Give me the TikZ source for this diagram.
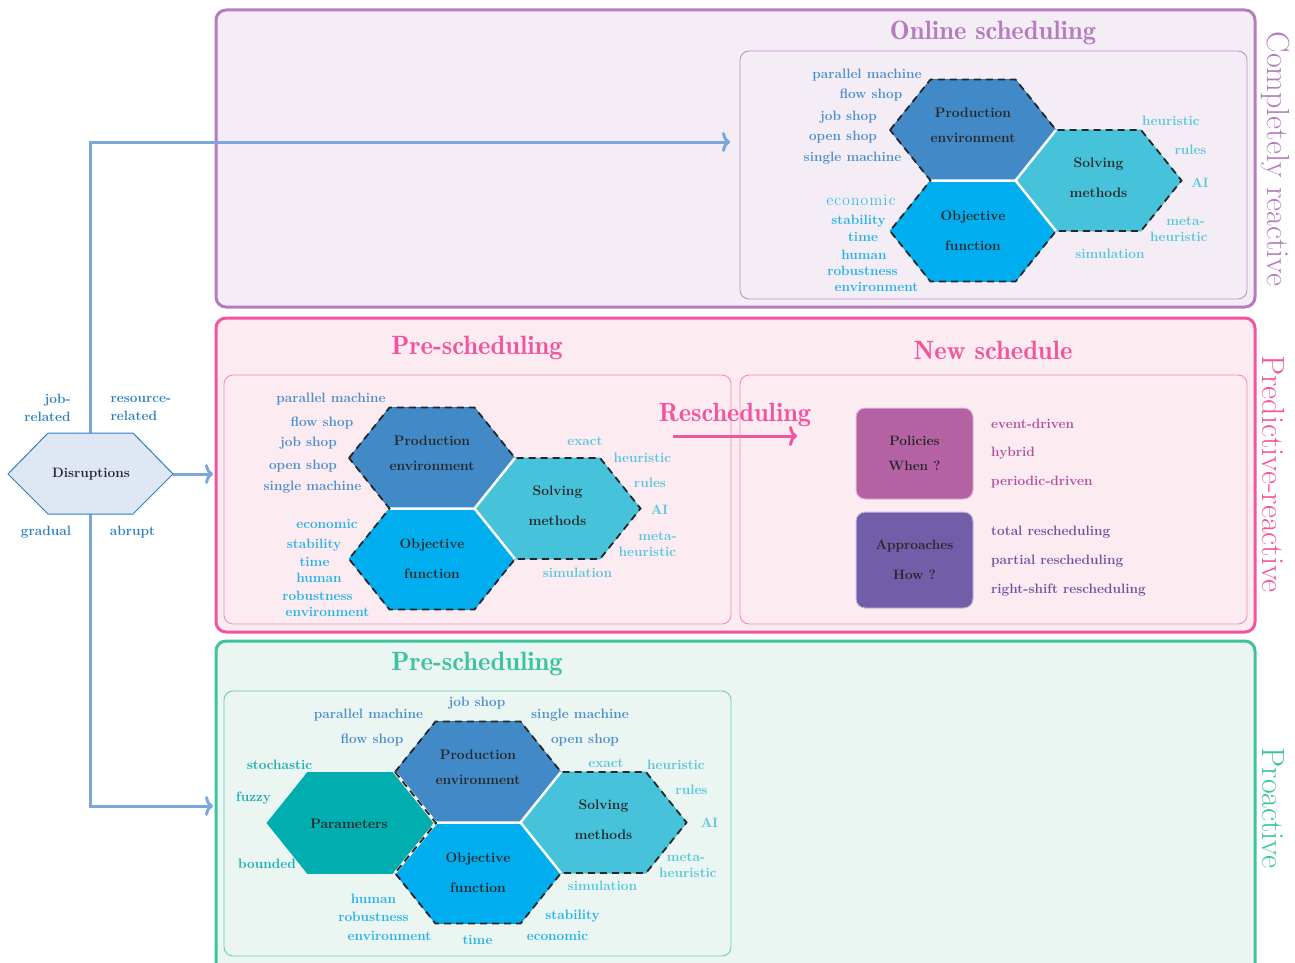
\documentclass[tikz,border=0pt]{standalone}
\usepackage{fontspec}
\usetikzlibrary{arrows.meta}
\newfontfamily\demifont{lmromandemi10-regular.otf}
\definecolor{pur}{HTML}{B57CC0}
\definecolor{purbg}{HTML}{F5EDF6}
\definecolor{purin}{HTML}{C48FCE}
\definecolor{pnk}{HTML}{F2559F}
\definecolor{pnkbg}{HTML}{FDEBF2}
\definecolor{pnkin}{HTML}{F38DC0}
\definecolor{grn}{HTML}{3CC39E}
\definecolor{grnbg}{HTML}{EBF5F2}
\definecolor{grnin}{HTML}{6CCFB2}
\definecolor{cprod}{HTML}{4189C7}
\definecolor{cprodd}{HTML}{2E78BA}
\definecolor{cobj}{HTML}{00ADEE}
\definecolor{cobjd}{HTML}{0099D8}
\definecolor{csol}{HTML}{46C2DA}
\definecolor{csold}{HTML}{34B2CC}
\definecolor{cpar}{HTML}{00ADAF}
\definecolor{lprod}{HTML}{4B8ECF}
\definecolor{lobj}{HTML}{22B2EC}
\definecolor{lsol}{HTML}{55C6DE}
\definecolor{lpar}{HTML}{17B0AE}
\definecolor{cpol}{HTML}{B562A4}
\definecolor{capp}{HTML}{725EA8}
\definecolor{lpol}{HTML}{B24E9E}
\definecolor{lapp}{HTML}{6852A5}
\definecolor{dfill}{HTML}{DFE7F5}
\definecolor{ddraw}{HTML}{2B80C4}
\definecolor{dlab}{HTML}{2B80C4}
\definecolor{arrowblue}{HTML}{7BA7DA}
\definecolor{txtdark}{HTML}{262626}
\newcommand{\labfont}{\fontsize{13.6}{16}\selectfont\bfseries}
\newcommand{\titlefont}{\demifont\fontsize{26.5}{30}\selectfont}
\newcommand{\sidefont}{\fontsize{32}{36}\selectfont}
\newcommand{\spk}{\kern1.2pt}
\tikzset{
  lab/.style={font=\labfont, inner sep=0pt, text height=9.5pt, text depth=2.8pt},
  lpP/.style={lab, text=lprod},
  lpO/.style={lab, text=lobj},
  lpS/.style={lab, text=lsol},
  lpR/.style={lab, text=lpar},
  lpol/.style={lab, text=lpol, anchor=west},
  lapp/.style={lab, text=lapp, anchor=west},
  dlabel/.style={font=\fontsize{13.6}{18}\selectfont\bfseries, text=dlab, inner sep=0pt},
  hextxt/.style={text=txtdark, align=center, inner sep=0pt},
  titletxt/.style={font=\titlefont, inner sep=0pt},
  sidelab/.style={font=\sidefont, rotate=-90, inner sep=0pt},
  flow/.style={arrowblue, line width=3pt, -{Computer Modern Rightarrow[length=8pt,width=20pt]}},
  dashout/.style={draw=black!85, line width=1.8pt, dash pattern=on 7pt off 5pt, line join=miter},
  sepline/.style={white, line width=2.5pt},
  policybox/.style={rounded corners=9pt, minimum width=117pt, minimum height=91pt, text=txtdark,
     align=center, font=\fontsize{13.6}{25}\selectfont\bfseries, line width=1pt, inner sep=0pt},
  outerpanel/.style={line width=3pt, rounded corners=10pt},
  innerpanel/.style={line width=0.9pt, rounded corners=9pt}
}
\newcommand{\hexat}[2]{({#1-83},{#2}) -- ({#1-42.5},{#2-50.5}) -- ({#1+42.5},{#2-50.5}) -- ({#1+83},{#2}) -- ({#1+42.5},{#2+50.5}) -- ({#1-42.5},{#2+50.5}) -- cycle}
\newcommand{\hexcluster}[3]{%
  \pgfmathsetmacro{\hx}{#1}\pgfmathsetmacro{\hy}{#2}%
  \filldraw[fill=cprod, draw=cprodd, line width=0.7pt] \hexat{\hx}{\hy};
  \filldraw[fill=cobj, draw=cobjd, line width=0.7pt] \hexat{\hx}{\hy+101};
  \filldraw[fill=csol, draw=csold, line width=0.7pt] \hexat{\hx+125.5}{\hy+50.5};
  \draw[sepline] ({\hx-42.5},{\hy+50.5}) -- ({\hx+42.5},{\hy+50.5}) -- ({\hx+83},{\hy});
  \draw[sepline] ({\hx+42.5},{\hy+50.5}) -- ({\hx+83},{\hy+101});
  \draw[dashout] ({\hx-83},{\hy}) -- ({\hx-42.5},{\hy-50.5}) -- ({\hx+42.5},{\hy-50.5}) -- ({\hx+83},{\hy})
     -- ({\hx+168},{\hy}) -- ({\hx+208.5},{\hy+50.5}) -- ({\hx+168},{\hy+101}) -- ({\hx+83},{\hy+101})
     -- ({\hx+42.5},{\hy+151.5}) -- ({\hx-42.5},{\hy+151.5}) -- ({\hx-83},{\hy+101}) -- ({\hx-42.5},{\hy+50.5}) -- cycle;
  \node[hextxt, font=\fontsize{13.8}{25}\selectfont\bfseries] (prod#3) at (\hx,{\hy-5}) {Production\\environment};
  \node[hextxt, font=\fontsize{13.8}{30}\selectfont\bfseries] (obj#3) at (\hx,{\hy+101}) {Objective\\function};
  \node[hextxt, font=\fontsize{13.8}{30}\selectfont\bfseries] (sol#3) at ({\hx+125.5},{\hy+48}) {Solving\\methods};
}
\begin{document}
\begin{tikzpicture}[x=1pt,y=-1pt]
\useasboundingbox (0,0) rectangle (1295,963);
\begin{scope}
\clip (0,0) rectangle (1295,963);
% panels
\path[outerpanel, draw=pur, fill=purbg] (216,10) rectangle (1255,307);
\path[innerpanel, draw=purin, fill=purbg] (740,51) rectangle (1247,299);
\path[outerpanel, draw=pnk, fill=pnkbg] (216,318) rectangle (1255,632);
\path[innerpanel, draw=pnkin, fill=pnkbg] (224,375) rectangle (731,624);
\path[innerpanel, draw=pnkin, fill=pnkbg] (740,375) rectangle (1247,624);
\path[outerpanel, draw=grn, fill=grnbg] (216,641) rectangle (1255,990);
\path[innerpanel, draw=grnin, fill=grnbg] (224,691) rectangle (731,956);
\end{scope}

% titles
\node[titletxt, text=pur] (tOnline) at (993,33) {Online scheduling};
\node[titletxt, text=pnk] (tPre) at (477,348) {Pre-scheduling};
\node[titletxt, text=pnk] (tNew) at (993,350) {New schedule};
\node[titletxt, text=grn] (tPro) at (477,664) {Pre-scheduling};
\node[sidelab, text=pur] (sCR) at (1275,159) {Completely reactive};
\node[sidelab, text=pnk] (sPR) at (1273,474) {Predictive-reactive};
\node[sidelab, text=grn] (sPA) at (1273,808) {Proactive};

% clusters
\hexcluster{973}{130}{A}
\hexcluster{432}{458}{B}
\filldraw[fill=cpar, draw=cpar, line width=0.7pt] \hexat{350}{823};
\hexcluster{478}{772}{C}
\draw[sepline] (436,823) -- (395,772);
\draw[sepline] (436,823) -- (395,873);
\draw[dashout] (395,772) -- (436,823) -- (395,873);
\node[hextxt, font=\fontsize{13.8}{16}\selectfont\bfseries] (param) at (349,824) {Parameters};

% top cluster labels
\node[lpP] (a1) at (867,75) {parallel machine};
\node[lpP] (a2) at (871,95) {flow shop};
\node[lpP] (a3) at (848.5,117) {job shop};
\node[lpP] (a4) at (843,137) {open shop};
\node[lpP] (a5) at (852.5,158) {single machine};
\node[lab, text=lobj, font=\fontsize{16.5}{18}\selectfont] (a6) at (861,202) {e\spk c\spk o\spk n\spk o\spk m\spk i\spk c};
\node[lpO] (a7) at (858.5,221) {stability};
\node[lpO] (a8) at (863,238) {time};
\node[lpO] (a9) at (864,256) {human};
\node[lpO] (a10) at (862.5,272) {robustness};
\node[lpO] (a11) at (876.5,288) {environment};
\node[lpS] (a12) at (1171,122) {heuristic};
\node[lpS] (a13) at (1190.5,151) {rules};
\node[lpS] (a14) at (1200,184) {AI};
\node[lpS] (a15) at (1185.5,222) {meta-};
\node[lpS] (a16) at (1179,238) {heuristic};
\node[lpS] (a17) at (1110,255) {simulation};

% middle cluster labels
\node[lpP] (b1) at (331,399) {parallel machine};
\node[lpP] (b2) at (322,423) {flow shop};
\node[lpP] (b3) at (308.5,443) {job shop};
\node[lpP] (b4) at (303,466) {open shop};
\node[lpP] (b5) at (312.5,487) {single machine};
\node[lpO] (b6) at (327,525) {economic};
\node[lpO] (b7) at (314,545) {stability};
\node[lpO] (b8) at (314.5,563) {time};
\node[lpO] (b9) at (319,579) {human};
\node[lpO] (b10) at (317.5,597) {robustness};
\node[lpO] (b11) at (327.5,613) {environment};
\node[lpS] (b12) at (585,442) {exact};
\node[lpS] (b13) at (642.5,459) {heuristic};
\node[lpS] (b14) at (650,484) {rules};
\node[lpS] (b15) at (659.5,511) {AI};
\node[lpS] (b16) at (657.5,537) {meta-};
\node[lpS] (b17) at (647.5,553) {heuristic};
\node[lpS] (b18) at (577.5,574) {simulation};

% bottom cluster labels
\node[lpP] (c1) at (477,703) {job shop};
\node[lpP] (c2) at (368.5,715) {parallel machine};
\node[lpP] (c3) at (580,715) {single machine};
\node[lpP] (c4) at (372,740) {flow shop};
\node[lpP] (c5) at (585,740) {open shop};
\node[lpR] (c6) at (279.5,766) {stochastic};
\node[lpR] (c7) at (253.5,798) {fuzzy};
\node[lpR] (c8) at (267,865) {bounded};
\node[lpS] (c9) at (606,764) {exact};
\node[lpS] (c10) at (676,766) {heuristic};
\node[lpS] (c11) at (691.5,791) {rules};
\node[lpS] (c12) at (709.5,824) {AI};
\node[lpS] (c13) at (686,858) {meta-};
\node[lpS] (c14) at (688,874) {heuristic};
\node[lpS] (c15) at (602.5,887) {simulation};
\node[lpO] (c16) at (373.5,900) {human};
\node[lpO] (c17) at (373.5,918) {robustness};
\node[lpO] (c18) at (389.5,937) {environment};
\node[lpO] (c19) at (477.5,941) {time};
\node[lpO] (c20) at (572.5,916) {stability};
\node[lpO] (c21) at (557.5,937) {economic};

% policies / approaches
\node[policybox, fill=cpol, draw=cpol!45!white] (pol) at (914.5,453.5) {Policies\\When ?};
\node[policybox, fill=capp, draw=capp!40!white, font=\fontsize{13.6}{30}\selectfont\bfseries, minimum height=96pt] (app) at (914.5,560) {Approaches\\How ?};
\node[lpol] (p1) at (991,425) {event-driven};
\node[lpol] (p2) at (991,453) {hybrid};
\node[lpol] (p3) at (991,482) {periodic-driven};
\node[lapp] (p4) at (991,532) {total rescheduling};
\node[lapp] (p5) at (991,561) {partial rescheduling};
\node[lapp] (p6) at (991,590) {right-shift rescheduling};

% rescheduling arrow
\node[font=\demifont\fontsize{26.3}{30}\selectfont, text=pnk, inner sep=0pt] (resch) at (735,415) {Rescheduling};
\coordinate (rsA) at (673,436);
\coordinate (rsB) at (797,436);
\draw[pnk, line width=3pt, -{Computer Modern Rightarrow[length=8pt,width=20pt]}] (rsA) -- (rsB);

% disruptions
\coordinate (disN) at (90.5,433);
\coordinate (disS) at (90.5,514);
\coordinate (disE) at (173,474);
\coordinate (tgtTop) at (730,142);
\coordinate (tgtMid) at (213,474);
\coordinate (tgtBot) at (213,806);
\draw[flow] (disN) |- (tgtTop);
\draw[flow] (disS) |- (tgtBot);
\draw[flow] (disE) -- (tgtMid);
\filldraw[fill=dfill, draw=ddraw, line width=1pt] (8,474) -- (48,433) -- (133,433) -- (173,474) -- (133,514) -- (48,514) -- cycle;
\node[text=txtdark, font=\fontsize{13.6}{16}\selectfont\bfseries, inner sep=0pt] (dis) at (91,474) {Disruptions};
\node[dlabel, align=right] (djob) at (47.5,408) {job-\\related};
\node[dlabel, align=left] (dres) at (141,408) {resource-\\related};
\node[dlabel, text height=9.5pt, text depth=2.8pt] (dgrad) at (46,532) {gradual};
\node[dlabel, text height=9.5pt, text depth=2.8pt] (dabr) at (132.5,532) {abrupt};
\end{tikzpicture}
\end{document}
